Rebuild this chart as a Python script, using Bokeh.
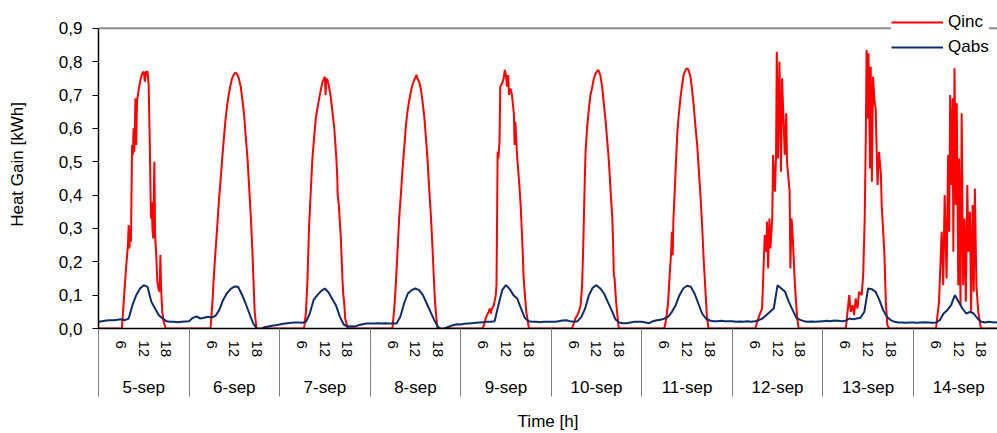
import math
from bokeh.plotting import figure
from bokeh.models import Range1d, LinearAxis, FixedTicker, Span, Legend, LegendItem
from bokeh.embed import file_html
from bokeh.resources import INLINE

# ---------------- data ----------------
DAY_LABELS = ["5-sep", "6-sep", "7-sep", "8-sep", "9-sep",
              "10-sep", "11-sep", "12-sep", "13-sep", "14-sep"]
HOUR_TICKS = [6, 12, 18]
HOUR_TICK_LABELS = ["6", "12", "18"]
Y_TICKS = [0.0, 0.1, 0.2, 0.3, 0.4, 0.5, 0.6, 0.7, 0.8, 0.9]
Y_TICK_LABELS = ["0,0", "0,1", "0,2", "0,3", "0,4", "0,5", "0,6", "0,7", "0,8", "0,9"]

# Qabs, hourly readings (hour 0..23) per day
QABS_HOURS = list(range(24))
qabs_05 = [0.020, 0.022, 0.024, 0.025, 0.025, 0.026, 0.028, 0.025, 0.030, 0.070, 0.100, 0.120,
           0.130, 0.125, 0.080, 0.060, 0.040, 0.030, 0.022, 0.020, 0.020, 0.019, 0.020, 0.021]
qabs_06 = [0.022, 0.032, 0.036, 0.030, 0.032, 0.035, 0.033, 0.038, 0.055, 0.085, 0.105, 0.118,
           0.126, 0.125, 0.102, 0.075, 0.045, 0.015, 0.000, -0.002, 0.004, 0.006, 0.008, 0.010]
qabs_07 = [0.012, 0.014, 0.016, 0.017, 0.018, 0.018, 0.017, 0.020, 0.045, 0.085, 0.100, 0.112,
           0.120, 0.108, 0.088, 0.068, 0.035, 0.012, 0.006, 0.007, 0.006, 0.010, 0.013, 0.015]
qabs_08 = [0.015, 0.015, 0.016, 0.015, 0.016, 0.015, 0.015, 0.015, 0.035, 0.075, 0.105, 0.115,
           0.120, 0.115, 0.100, 0.075, 0.050, 0.025, 0.005, -0.004, 0.002, 0.006, 0.010, 0.013]
qabs_09 = [0.012, 0.014, 0.015, 0.016, 0.017, 0.018, 0.019, 0.020, 0.020, 0.022, 0.070, 0.115,
           0.130, 0.118, 0.100, 0.090, 0.060, 0.032, 0.022, 0.020, 0.020, 0.019, 0.020, 0.020]
qabs_10 = [0.020, 0.020, 0.022, 0.024, 0.025, 0.022, 0.020, 0.022, 0.035, 0.060, 0.100, 0.122,
           0.130, 0.120, 0.105, 0.080, 0.055, 0.028, 0.018, 0.016, 0.016, 0.018, 0.020, 0.020]
qabs_11 = [0.020, 0.018, 0.016, 0.022, 0.025, 0.026, 0.030, 0.035, 0.050, 0.070, 0.100, 0.120,
           0.128, 0.125, 0.105, 0.075, 0.045, 0.030, 0.024, 0.022, 0.022, 0.023, 0.022, 0.022]
qabs_12 = [0.022, 0.020, 0.021, 0.020, 0.022, 0.020, 0.022, 0.025, 0.030, 0.040, 0.050, 0.060,
           0.130, 0.120, 0.110, 0.080, 0.055, 0.032, 0.026, 0.022, 0.020, 0.021, 0.020, 0.021]
qabs_13 = [0.022, 0.023, 0.022, 0.024, 0.023, 0.022, 0.023, 0.030, 0.028, 0.030, 0.032, 0.050,
           0.120, 0.118, 0.110, 0.085, 0.055, 0.035, 0.025, 0.020, 0.018, 0.018, 0.017, 0.018]
qabs_14 = [0.018, 0.017, 0.018, 0.019, 0.018, 0.017, 0.018, 0.025, 0.045, 0.055, 0.070, 0.100,
           0.080, 0.060, 0.045, 0.050, 0.045, 0.030, 0.020, 0.018, 0.020, 0.019, 0.018, 0.018]

# Qinc, (hour, value) readings per day
qinc_05 = [(0.0, 0.0), (6.2, 0.0), (6.8, 0.10), (7.3, 0.18), (7.8, 0.25), (8.0, 0.31), (8.2, 0.24),
           (8.4, 0.30), (8.6, 0.26), (8.9, 0.55), (9.1, 0.52), (9.3, 0.60), (9.5, 0.53), (9.8, 0.69),
           (10.0, 0.55), (10.2, 0.68), (10.7, 0.72), (11.2, 0.75), (11.6, 0.765), (12.0, 0.77),
           (12.3, 0.74), (12.6, 0.77), (13.0, 0.77), (13.3, 0.73), (13.6, 0.55), (13.9, 0.33),
           (14.1, 0.38), (14.3, 0.30), (14.5, 0.27), (14.8, 0.50), (15.0, 0.28), (15.3, 0.22),
           (15.6, 0.14), (15.9, 0.12), (16.2, 0.11), (16.4, 0.22), (16.6, 0.12), (16.9, 0.05),
           (17.3, 0.02), (17.8, 0.0)]
qinc_06 = [(5.7, 0.0), (6.2, 0.08), (6.6, 0.16), (7.0, 0.23), (7.5, 0.31), (7.9, 0.38), (8.4, 0.45),
           (8.8, 0.51), (9.3, 0.58), (9.7, 0.63), (10.1, 0.67), (10.5, 0.70), (11.0, 0.73),
           (11.4, 0.75), (11.9, 0.762), (12.3, 0.767), (12.8, 0.762), (13.2, 0.75), (13.7, 0.725),
           (14.1, 0.69), (14.6, 0.64), (15.0, 0.58), (15.5, 0.51), (15.9, 0.43), (16.4, 0.33),
           (16.8, 0.23), (17.1, 0.14), (17.4, 0.05), (17.9, 0.0)]
qinc_07 = [(6.5, 0.0), (7.0, 0.05), (7.4, 0.15), (7.8, 0.30), (8.3, 0.42), (8.7, 0.51), (9.2, 0.58),
           (9.6, 0.63), (10.1, 0.665), (10.5, 0.69), (11.0, 0.72), (11.4, 0.74), (11.8, 0.75),
           (12.0, 0.755), (12.2, 0.70), (12.35, 0.75), (12.7, 0.745), (13.1, 0.725), (13.6, 0.69),
           (14.0, 0.65), (14.5, 0.60), (15.0, 0.52), (15.3, 0.45), (15.4, 0.40), (15.7, 0.37),
           (16.2, 0.28), (16.7, 0.14), (16.9, 0.10), (17.1, 0.08), (17.4, 0.03), (18.1, 0.0)]
qinc_08 = [(5.9, 0.0), (6.4, 0.06), (6.8, 0.13), (7.3, 0.24), (7.7, 0.33), (8.2, 0.41), (8.6, 0.48),
           (9.1, 0.55), (9.5, 0.61), (9.9, 0.65), (10.3, 0.68), (10.8, 0.71), (11.2, 0.73),
           (11.7, 0.745), (12.1, 0.755), (12.3, 0.76), (12.5, 0.75), (13.0, 0.74), (13.5, 0.715),
           (13.9, 0.68), (14.4, 0.63), (14.8, 0.57), (15.2, 0.51), (15.6, 0.43), (16.1, 0.34),
           (16.5, 0.25), (16.9, 0.15), (17.2, 0.08), (17.8, 0.0)]
qinc_09 = [(5.7, 0.0), (6.2, 0.01), (6.6, 0.03), (7.0, 0.04), (7.4, 0.05), (7.7, 0.06), (8.0, 0.045),
           (8.3, 0.06), (8.8, 0.07), (9.3, 0.10), (9.5, 0.13), (9.8, 0.53), (10.0, 0.51), (10.3, 0.56),
           (10.5, 0.725), (11.0, 0.735), (11.4, 0.75), (11.7, 0.775), (12.0, 0.76), (12.3, 0.725),
           (12.6, 0.76), (12.8, 0.70), (13.2, 0.72), (13.6, 0.70), (14.1, 0.645), (14.3, 0.55),
           (14.5, 0.62), (15.0, 0.51), (15.5, 0.44), (15.9, 0.37), (16.3, 0.27), (16.7, 0.15),
           (17.1, 0.09), (17.4, 0.05), (18.1, 0.0)]
qinc_10 = [(5.5, 0.0), (6.0, 0.015), (6.4, 0.03), (6.9, 0.04), (7.3, 0.05), (7.8, 0.07), (8.2, 0.13),
           (8.5, 0.25), (8.8, 0.40), (9.1, 0.53), (9.5, 0.60), (10.0, 0.66), (10.4, 0.70),
           (10.9, 0.725), (11.3, 0.75), (11.8, 0.765), (12.2, 0.772), (12.5, 0.775), (13.0, 0.76),
           (13.5, 0.725), (13.9, 0.68), (14.4, 0.625), (14.8, 0.57), (15.3, 0.50), (15.7, 0.42),
           (16.2, 0.33), (16.4, 0.26), (16.6, 0.16), (16.8, 0.15), (17.2, 0.08), (17.9, 0.0)]
qinc_11 = [(6.0, 0.0), (6.5, 0.03), (7.0, 0.08), (7.4, 0.16), (7.8, 0.23), (8.0, 0.29), (8.2, 0.22),
           (8.4, 0.33), (8.7, 0.40), (9.0, 0.48), (9.4, 0.58), (9.8, 0.64), (10.3, 0.695),
           (10.7, 0.73), (11.1, 0.76), (11.6, 0.775), (12.0, 0.78), (12.4, 0.775), (12.9, 0.755),
           (13.3, 0.72), (13.8, 0.665), (14.2, 0.61), (14.7, 0.55), (15.1, 0.48), (15.5, 0.41),
           (16.0, 0.31), (16.4, 0.21), (16.9, 0.11), (17.3, 0.03), (17.7, 0.0)]
qinc_12 = [(6.1, 0.0), (6.6, 0.02), (7.2, 0.04), (7.9, 0.06), (8.6, 0.28), (9.0, 0.23), (9.2, 0.32),
           (9.5, 0.18), (9.85, 0.33), (10.1, 0.24), (10.6, 0.33), (10.8, 0.52), (11.3, 0.41),
           (11.6, 0.52), (11.8, 0.83), (12.1, 0.51), (12.5, 0.80), (12.9, 0.47), (13.2, 0.75),
           (13.6, 0.62), (13.9, 0.52), (14.3, 0.645), (14.5, 0.50), (15.2, 0.41), (15.4, 0.18),
           (15.7, 0.33), (16.0, 0.28), (16.6, 0.13), (17.2, 0.03), (17.6, 0.0)]
qinc_13 = [(6.1, 0.0), (7.0, 0.10), (7.4, 0.05), (7.9, 0.07), (8.3, 0.04), (8.7, 0.09), (9.2, 0.06),
           (9.6, 0.11), (10.3, 0.10), (10.7, 0.16), (11.1, 0.33), (11.4, 0.58), (11.6, 0.835),
           (11.8, 0.63), (12.1, 0.825), (12.5, 0.48), (12.7, 0.785), (13.0, 0.44), (13.3, 0.755),
           (13.7, 0.68), (14.0, 0.66), (14.5, 0.43), (14.9, 0.53), (15.4, 0.46), (15.6, 0.37),
           (16.3, 0.23), (16.7, 0.08), (17.1, 0.01), (17.6, 0.0)]
qinc_14 = [(6.0, 0.0), (6.8, 0.08), (7.5, 0.29), (7.9, 0.13), (8.3, 0.40), (8.8, 0.15), (9.2, 0.52),
           (9.5, 0.29), (9.75, 0.70), (10.0, 0.43), (10.4, 0.69), (10.6, 0.23), (10.9, 0.78),
           (11.25, 0.37), (11.5, 0.675), (11.9, 0.13), (12.1, 0.51), (12.5, 0.07), (12.8, 0.645),
           (13.2, 0.13), (13.55, 0.33), (13.9, 0.08), (14.3, 0.43), (14.6, 0.23), (15.0, 0.35),
           (15.3, 0.05), (15.7, 0.37), (16.0, 0.11), (16.3, 0.42), (16.7, 0.13), (17.2, 0.05),
           (17.9, 0.0), (24.0, 0.0)]

QINC_DAYS = [qinc_05, qinc_06, qinc_07, qinc_08, qinc_09, qinc_10, qinc_11, qinc_12, qinc_13, qinc_14]
QABS_DAYS = [qabs_05, qabs_06, qabs_07, qabs_08, qabs_09, qabs_10, qabs_11, qabs_12, qabs_13, qabs_14]

# ---------------- build series (x in hours from 5-sep 00:00) ----------------
inc_x, inc_y = [], []
for d, pts in enumerate(QINC_DAYS):
    for h, v in pts:
        inc_x.append(d * 24 + h)
        inc_y.append(v)
abs_x, abs_y = [], []
for d, vals in enumerate(QABS_DAYS):
    for h, v in zip(QABS_HOURS, vals):
        abs_x.append(d * 24 + h)
        abs_y.append(v)

FONT = "Liberation Sans"
X_END = 238.3
Y_TOP = 0.9
Y_END = 0.9834   # leaves room above the 0,9 line for the legend

p = figure(width=997, height=433, x_range=Range1d(0, X_END), y_range=Range1d(0, Y_END),
           x_axis_type=None, y_axis_type=None, output_backend="svg", toolbar_location=None,
           min_border_left=98, min_border_right=0, min_border_top=0, min_border_bottom=103)
p.outline_line_color = None
p.background_fill_color = "white"
p.border_fill_color = "white"

# y axis (line limited to 0..0.9)
yax = LinearAxis(ticker=FixedTicker(ticks=Y_TICKS), bounds=(0, Y_TOP),
                 major_label_overrides={t: l for t, l in zip(Y_TICKS, Y_TICK_LABELS)},
                 major_tick_out=6, major_tick_in=0, minor_tick_line_color=None,
                 axis_line_color="black", axis_line_width=1.5, major_tick_line_color="black",
                 major_label_standoff=10, major_label_text_font=FONT,
                 major_label_text_font_size="17px", major_label_text_color="black")
p.add_layout(yax, "left")

# y title carried by an empty axis
ytitle = LinearAxis(ticker=FixedTicker(ticks=[]), bounds=(0.10, 0.937),
                    axis_line_color=None, major_tick_line_color=None, minor_tick_line_color=None,
                    major_tick_out=0, major_tick_in=0, major_label_standoff=0,
                    axis_label="Heat Gain [kWh]", axis_label_standoff=29,
                    axis_label_text_font=FONT, axis_label_text_font_size="17px",
                    axis_label_text_font_style="normal", axis_label_text_color="black")
p.add_layout(ytitle, "left")

# hour axis with day separators (minor ticks)
n_days = len(DAY_LABELS)
hour_ticks, hour_over = [], {}
for d in range(n_days):
    for h, lab in zip(HOUR_TICKS, HOUR_TICK_LABELS):
        hour_ticks.append(d * 24 + h)
        hour_over[d * 24 + h] = lab
sep_ticks = [d * 24 for d in range(n_days + 1)]
hax = LinearAxis(ticker=FixedTicker(ticks=hour_ticks, minor_ticks=sep_ticks),
                 major_label_overrides=hour_over, major_label_orientation="vertical",
                 major_tick_out=0, major_tick_in=0, major_tick_line_color=None,
                 minor_tick_out=68, minor_tick_in=0, minor_tick_line_color="#808080",
                 minor_tick_line_width=1, axis_line_color="black", axis_line_width=1.5,
                 major_label_standoff=-56, major_label_text_font=FONT,
                 major_label_text_font_size="15px", major_label_text_color="black")
p.add_layout(hax, "below")

# day axis
day_ticks = [d * 24 + 12 for d in range(n_days)]
dax = LinearAxis(ticker=FixedTicker(ticks=day_ticks),
                 major_label_overrides={t: l for t, l in zip(day_ticks, DAY_LABELS)},
                 axis_line_color=None, major_tick_line_color=None, minor_tick_line_color=None,
                 major_tick_out=0, major_tick_in=0, major_label_standoff=17,
                 major_label_text_font=FONT, major_label_text_font_size="17px",
                 major_label_text_color="black",
                 axis_label="Time [h]", axis_label_standoff=12, axis_label_text_font=FONT,
                 axis_label_text_font_size="17px", axis_label_text_font_style="normal",
                 axis_label_text_color="black")
p.add_layout(dax, "below")

# lines
r_inc = p.line(inc_x, inc_y, line_color="#FF0000", line_width=2)
r_abs = p.line(abs_x, abs_y, line_color="#0C2C6C", line_width=2)

# top border at 0,9
p.add_layout(Span(location=Y_TOP, dimension="width", line_color="#8C8C8C", line_width=2))

legend = Legend(items=[LegendItem(label="Qinc", renderers=[r_inc]),
                       LegendItem(label="Qabs", renderers=[r_abs])],
                location=(793, 271), orientation="vertical",
                glyph_width=52, glyph_height=20, label_height=20, label_standoff=5,
                spacing=5, padding=8, margin=0, border_line_color=None,
                background_fill_color="white", background_fill_alpha=1.0,
                label_text_font=FONT, label_text_font_size="17px", label_text_color="black")
p.add_layout(legend)

open("out.html", "w").write(file_html(p, INLINE))
